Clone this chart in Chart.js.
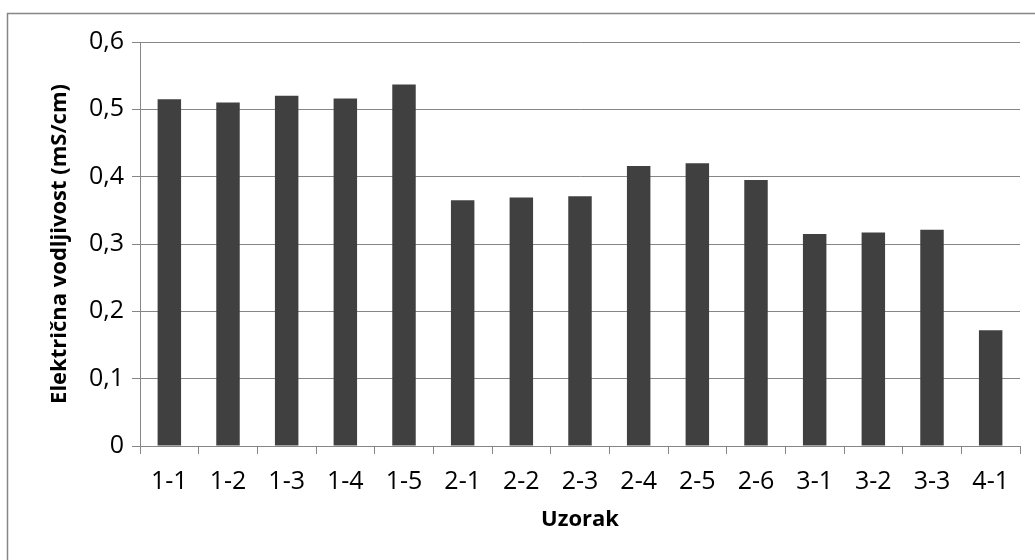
<!DOCTYPE html>
<html>
<head>
<meta charset="utf-8">
<script src="https://cdn.jsdelivr.net/npm/chart.js@4"></script>
<style>
  html, body { margin: 0; padding: 0; background: #fff; }
  #wrap { width: 1035px; height: 560px; position: relative; }
</style>
</head>
<body>
<div id="wrap"><canvas id="conductivity"></canvas></div>
<script>
// sample labels and measured conductivity (mS/cm)
const samples = ['1-1', '1-2', '1-3', '1-4', '1-5', '2-1', '2-2', '2-3', '2-4', '2-5', '2-6', '3-1', '3-2', '3-3', '4-1'];
const conductivity = [0.515, 0.51, 0.52, 0.516, 0.537, 0.365, 0.369, 0.371, 0.416, 0.42, 0.395, 0.315, 0.317, 0.321, 0.172];
const yTicks = [0, 0.1, 0.2, 0.3, 0.4, 0.5, 0.6];
const xTitle = 'Uzorak';
const yTitle = 'Električna vodljivost (mS/cm)';

const gridGray = '#868686';
const fontFam = '"Open Sans", "Noto Sans", sans-serif';

// outer frame (only top + left edges show) and the two axis titles
const framePlugin = {
  id: 'frame',
  afterDraw(chart) {
    const { ctx, chartArea } = chart;
    ctx.save();
    ctx.strokeStyle = gridGray;
    ctx.lineWidth = 1.5;
    ctx.beginPath();
    ctx.moveTo(7.5, 560);
    ctx.lineTo(7.5, 13.5);
    ctx.lineTo(1035, 13.5);
    ctx.stroke();

    ctx.fillStyle = '#000';
    ctx.font = 'bold 22px ' + fontFam;
    ctx.textAlign = 'center';
    ctx.textBaseline = 'middle';
    const midX = (chartArea.left + chartArea.right) / 2;
    const midY = (chartArea.top + chartArea.bottom) / 2;
    ctx.fillText(xTitle, midX, 520);
    ctx.translate(60, midY);
    ctx.rotate(-Math.PI / 2);
    ctx.fillText(yTitle, 0, 0);
    ctx.restore();
  }
};

const ctx = document.getElementById('conductivity').getContext('2d');
new Chart(ctx, {
  type: 'bar',
  data: {
    labels: samples,
    datasets: [{
      label: 'Električna vodljivost',
      data: conductivity,
      backgroundColor: '#404040',
      borderWidth: 0,
      barPercentage: 0.4,
      categoryPercentage: 1.0
    }]
  },
  options: {
    responsive: true,
    maintainAspectRatio: false,
    animation: false,
    layout: {
      padding: { left: 0, right: 15, top: 42, bottom: 0 }
    },
    plugins: {
      legend: { display: false },
      tooltip: { enabled: false }
    },
    scales: {
      x: {
        grid: {
          offset: true,
          drawOnChartArea: false,
          drawTicks: true,
          tickLength: 8,
          color: gridGray
        },
        border: { color: gridGray, width: 1 },
        ticks: {
          color: '#000',
          padding: 13,
          maxRotation: 0,
          font: { family: fontFam, size: 25 }
        },
        afterFit(scale) { scale.height = 114; }
      },
      y: {
        min: 0,
        max: 0.6,
        afterBuildTicks(scale) {
          scale.ticks = yTicks.map(v => ({ value: v }));
        },
        grid: {
          color: gridGray,
          tickLength: 8
        },
        border: { color: gridGray, width: 1 },
        ticks: {
          color: '#000',
          padding: 8,
          font: { family: fontFam, size: 25 },
          callback: v => String(Math.round(v * 10) / 10).replace('.', ',')
        },
        afterFit(scale) { scale.width = 140; }
      }
    }
  },
  plugins: [framePlugin]
});
</script>
</body>
</html>
